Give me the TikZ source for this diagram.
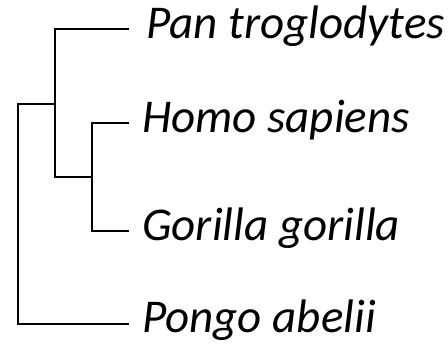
\documentclass[tikz,border=0pt]{standalone}
\usepackage{fontspec}
\setmainfont{Carlito}
\begin{document}
\begin{tikzpicture}[x=1pt,y=-1pt,
  branch/.style={line width=2pt,line cap=rect},
  leaf/.style={anchor=base west,inner sep=0pt,font=\fontsize{47}{50}\selectfont\itshape}]
\useasboundingbox (0,0) rectangle (448,344);
% internal nodes and leaf tips
\coordinate (root) at (18,104);
\coordinate (rootb) at (18,324);
\coordinate (n1t) at (55,29);
\coordinate (n1m) at (55,104);
\coordinate (n1b) at (55,177);
\coordinate (n2t) at (92,123);
\coordinate (n2m) at (92,177);
\coordinate (n2b) at (92,231);
\coordinate (tpan) at (128,29);
\coordinate (thomo) at (128,123);
\coordinate (tgor) at (128,231);
\coordinate (tpon) at (128,324);
% branches
\draw[branch] (tpan) -- (n1t) -- (n1b) -- (n2m);
\draw[branch] (thomo) -- (n2t) -- (n2b) -- (tgor);
\draw[branch] (n1m) -- (root) -- (rootb) -- (tpon);
% labels
\node[leaf] (lpan) at ([xshift=18pt,yshift=-10pt]tpan) {Pan troglodytes};
\node[leaf] (lhomo) at ([xshift=14pt,yshift=-10pt]thomo) {Homo sapiens};
\node[leaf] (lgor) at ([xshift=14pt,yshift=-10pt]tgor) {Gorilla gorilla};
\node[leaf] (lpon) at ([xshift=14pt,yshift=-9pt]tpon) {Pongo abelii};
\end{tikzpicture}
\end{document}
